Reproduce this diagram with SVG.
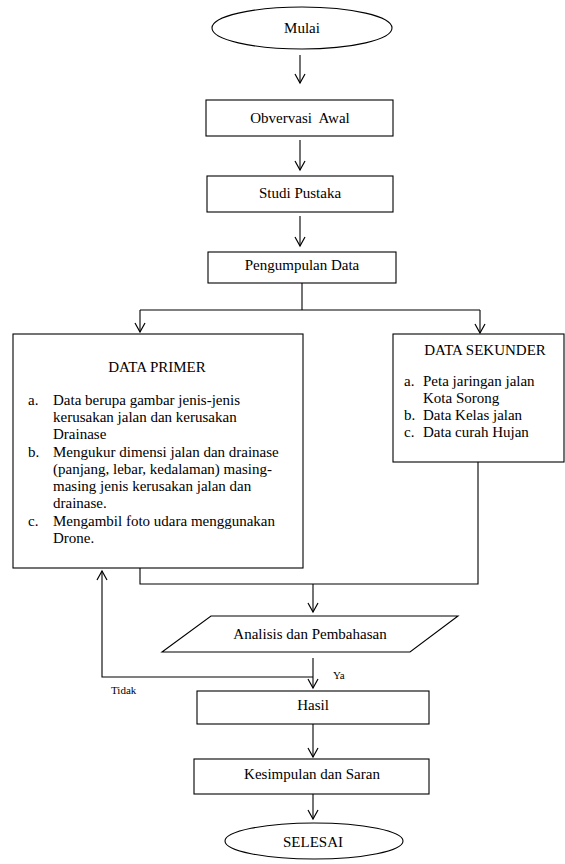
<svg xmlns="http://www.w3.org/2000/svg" width="565" height="864" viewBox="0 0 565 864">
<defs>
<marker id="arr" markerWidth="12" markerHeight="12" refX="10" refY="6" orient="auto" markerUnits="userSpaceOnUse" viewBox="0 0 12 12">
<path d="M1,1 L10,6 L1,11" fill="none" stroke="#000" stroke-width="1.2"/>
</marker>
</defs>
<style>
.s{fill:#fff;stroke:#000;stroke-width:1.1}
.t{font-family:"Liberation Serif","Times New Roman",serif;font-size:15px;fill:#000}
.c{text-anchor:middle}
.sm{font-family:"Liberation Serif","Times New Roman",serif;font-size:11px;fill:#000}
.l{fill:none;stroke:#000;stroke-width:1.1}
</style>
<rect width="565" height="864" fill="#fff"/>
<g id="connectors">
<path class="l" d="M300,55 V83" marker-end="url(#arr)"/>
<path class="l" d="M300,140 V170" marker-end="url(#arr)"/>
<path class="l" d="M300,216 V246" marker-end="url(#arr)"/>
<path class="l" d="M302,283 V310"/>
<path class="l" d="M140,310 H480"/>
<path class="l" d="M140,310 V332" marker-end="url(#arr)"/>
<path class="l" d="M480,310 V333" marker-end="url(#arr)"/>
<path class="l" d="M478,462 V584 H140 V568"/>
<path class="l" d="M313,584 V612" marker-end="url(#arr)"/>
<path class="l" d="M313,658 V688" marker-end="url(#arr)"/>
<path class="l" d="M313,677 H102 V571" marker-end="url(#arr)"/>
<path class="l" d="M313,724 V757" marker-end="url(#arr)"/>
<path class="l" d="M313,794 V819" marker-end="url(#arr)"/>
<text class="sm" x="333" y="679">Ya</text>
<text class="sm" x="111" y="694">Tidak</text>
</g>
<g id="mulai">
<ellipse class="s" cx="302" cy="28" rx="90" ry="21"/>
<text class="t c" x="302" y="33">Mulai</text>
</g>
<g id="obvervasi">
<rect class="s" x="206" y="100" width="187" height="36"/>
<text class="t c" x="300" y="123" style="white-space:pre">Obvervasi  Awal</text>
</g>
<g id="studi">
<rect class="s" x="207" y="176" width="186" height="36"/>
<text class="t c" x="300" y="198">Studi Pustaka</text>
</g>
<g id="pengumpulan">
<rect class="s" x="208" y="252" width="188" height="31"/>
<text class="t c" x="302" y="270">Pengumpulan Data</text>
</g>
<g id="primer">
<rect class="s" x="13" y="334" width="290" height="234"/>
<text class="t c" x="157" y="372">DATA PRIMER</text>
<text class="t" x="28" y="405">a.</text>
<text class="t" x="53" y="405">Data berupa gambar jenis-jenis</text>
<text class="t" x="53" y="422">kerusakan jalan dan kerusakan</text>
<text class="t" x="53" y="439">Drainase</text>
<text class="t" x="28" y="457">b.</text>
<text class="t" x="53" y="457">Mengukur dimensi jalan dan drainase</text>
<text class="t" x="53" y="474">(panjang, lebar, kedalaman) masing-</text>
<text class="t" x="53" y="491">masing jenis kerusakan jalan dan</text>
<text class="t" x="53" y="508">drainase.</text>
<text class="t" x="28" y="526">c.</text>
<text class="t" x="53" y="526">Mengambil foto udara menggunakan</text>
<text class="t" x="53" y="543">Drone.</text>
</g>
<g id="sekunder">
<rect class="s" x="393" y="334" width="171" height="128"/>
<text class="t c" x="485" y="355">DATA SEKUNDER</text>
<text class="t" x="404" y="386">a.</text>
<text class="t" x="423" y="386">Peta jaringan jalan</text>
<text class="t" x="423" y="403">Kota Sorong</text>
<text class="t" x="404" y="420">b.</text>
<text class="t" x="423" y="420">Data Kelas jalan</text>
<text class="t" x="404" y="437">c.</text>
<text class="t" x="423" y="437">Data curah Hujan</text>
</g>
<g id="analisis">
<polygon class="s" points="211,616 458,616 410,652 162,652"/>
<text class="t c" x="310" y="639">Analisis dan Pembahasan</text>
</g>
<g id="hasil">
<rect class="s" x="197" y="691" width="232" height="33"/>
<text class="t c" x="313" y="710">Hasil</text>
</g>
<g id="kesimpulan">
<rect class="s" x="194" y="759" width="235" height="35"/>
<text class="t c" x="312" y="779">Kesimpulan dan Saran</text>
</g>
<g id="selesai">
<ellipse class="s" cx="314" cy="841" rx="89" ry="18"/>
<text class="t c" x="313" y="847">SELESAI</text>
</g>
</svg>
